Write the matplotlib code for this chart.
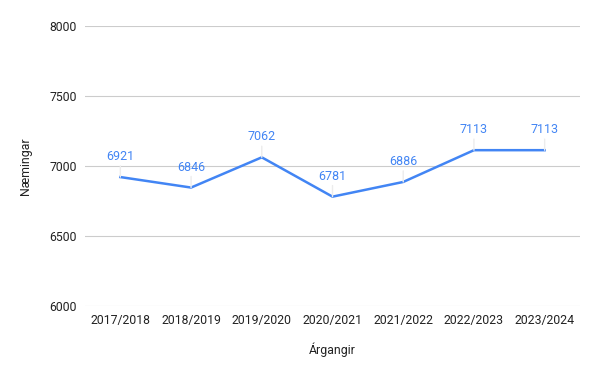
import matplotlib.pyplot as plt

# data
years = ["2017/2018", "2018/2019", "2019/2020", "2020/2021",
         "2021/2022", "2022/2023", "2023/2024"]
students = [6921, 6846, 7062, 6781, 6886, 7113, 7113]

plt.rcParams['font.family'] = ['Roboto', 'DejaVu Sans']

fig = plt.figure(figsize=(5.99, 3.77), dpi=100)
ax = fig.add_axes([85 / 599, 71 / 377, 495 / 599, 280 / 377])

x = list(range(len(years)))
ax.plot(x, students, color="#4285F4", linewidth=1.8, zorder=3)

# value labels with small leader lines
for xi, v in zip(x, students):
    ax.annotate(str(v), xy=(xi, v), xytext=(0, 10), textcoords="offset points",
                ha="center", va="bottom", color="#4285F4", fontsize=9,
                arrowprops=dict(arrowstyle="-", color="#ececec", lw=1,
                                shrinkA=0, shrinkB=0))

ax.set_xlim(-0.5, len(years) - 0.5)
ax.set_ylim(6000, 8000)
ax.set_yticks([6000, 6500, 7000, 7500, 8000])
ax.set_xticks(x)
ax.set_xticklabels(years)
ax.grid(axis="y", color="#cccccc", linewidth=0.8)
ax.set_axisbelow(True)
for s in ax.spines.values():
    s.set_visible(False)
ax.tick_params(length=0, labelsize=8.8, colors="#222222", pad=6)

ax.set_xlabel("Árgangir", fontsize=8.8, color="#222222", labelpad=11)
ax.set_ylabel("Næmingar", fontsize=8.8, color="#222222", labelpad=12)

plt.savefig("out.png")
